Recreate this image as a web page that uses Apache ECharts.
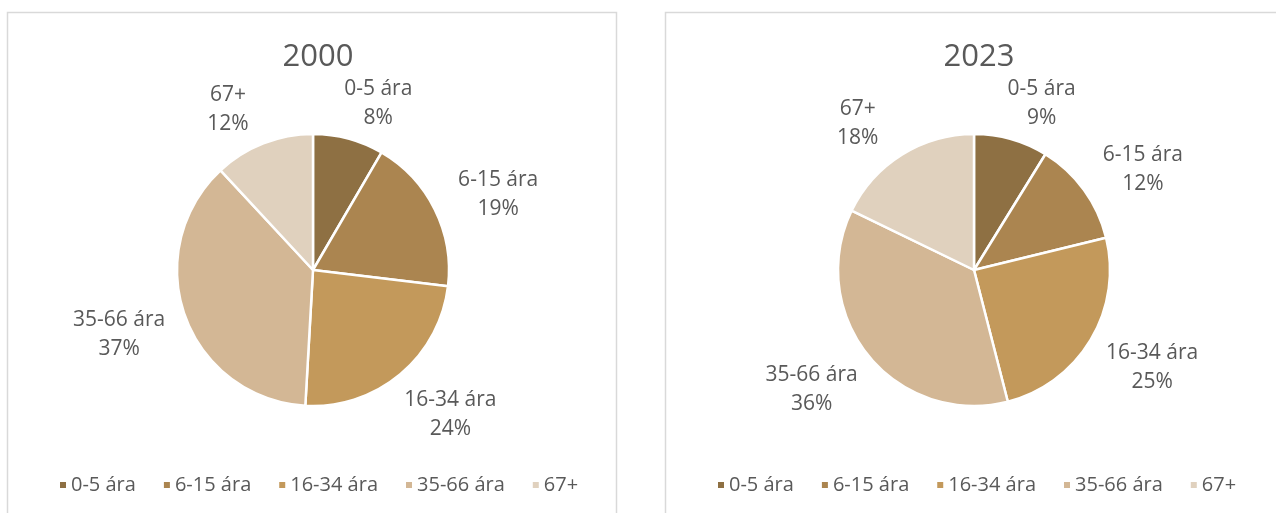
<!DOCTYPE html>
<html>
<head>
<meta charset="utf-8">
<script src="https://cdn.jsdelivr.net/npm/echarts@6/dist/echarts.min.js"></script>
<style>
  html, body { margin: 0; padding: 0; background: #fff; }
  #chart { width: 1276px; height: 513px; }
</style>
</head>
<body>
<div id="chart"></div>
<script>
// korcsoportok megoszlása, 2000 vs 2023
const groups = ['0-5 ára', '6-15 ára', '16-34 ára', '35-66 ára', '67+'];
const values2000 = [8.4, 18.5, 24.0, 37.2, 11.9];
const values2023 = [8.8, 12.4, 24.8, 36.2, 17.8];
const titles = ['2000', '2023'];
const colors = ['#8E7043', '#AB8550', '#C3995B', '#D3B795', '#E0D1BE'];

const FONT = '"Open Sans", "Noto Sans", sans-serif';
const TEXT = '#595959';

// a tényleges kördiagram
function pieSeries(vals, cx) {
  return {
    type: 'pie',
    center: [cx, 270],
    radius: 136,
    startAngle: 90,
    percentPrecision: 0,
    itemStyle: { borderColor: '#fff', borderWidth: 2.5 },
    label: { show: false },
    labelLine: { show: false },
    emphasis: { disabled: true },
    data: groups.map((name, i) => ({ name, value: vals[i], itemStyle: { color: colors[i] } }))
  };
}

// átlátszó gyűrű, csak a címkék miatt (középre igazítva, a szeleten kívül)
// Excelhez hasonlóan: oldalt kicsit kijjebb, felül kicsit beljebb
function labelSeries(vals, cx) {
  const total = vals.reduce((a, b) => a + b, 0);
  let acc = 0;
  const data = groups.map((name, i) => {
    const mid = (acc + vals[i] / 2) / total * Math.PI * 2;
    acc += vals[i];
    const dx = Math.sin(mid), dy = -Math.cos(mid);
    const oy = dy < 0 ? -14 * dy : -3 * dy;
    return { name, value: vals[i], label: { offset: [Math.sign(dx) * 16, oy] } };
  });
  return {
    type: 'pie',
    center: [cx, 272],
    radius: [170, 202],
    startAngle: 90,
    percentPrecision: 0,
    silent: true,
    itemStyle: { color: 'rgba(0,0,0,0)', borderWidth: 0 },
    label: {
      position: 'inside',
      formatter: '{b}\n{d}%',
      color: TEXT,
      fontFamily: FONT,
      fontSize: 21,
      lineHeight: 29
    },
    labelLine: { show: false },
    emphasis: { disabled: true },
    data
  };
}

function legend(left) {
  return {
    data: groups,
    left: left,
    top: 470,
    icon: 'rect',
    itemWidth: 8,
    itemHeight: 8,
    itemGap: 26,
    selectedMode: false,
    textStyle: { color: TEXT, fontFamily: FONT, fontSize: 20, padding: [0, 0, 0, -1] }
  };
}

const chart = echarts.init(document.getElementById('chart'));
chart.setOption({
  animation: false,
  color: colors,
  title: [
    { text: titles[0], left: 313, top: 37, textAlign: 'center',
      textStyle: { color: TEXT, fontFamily: FONT, fontSize: 31, fontWeight: 'normal' } },
    { text: titles[1], left: 974, top: 37, textAlign: 'center',
      textStyle: { color: TEXT, fontFamily: FONT, fontSize: 31, fontWeight: 'normal' } }
  ],
  legend: [legend(53), legend(711)],
  graphic: [
    { type: 'rect', shape: { x: 7.5, y: 12.5, width: 609, height: 520 },
      style: { fill: 'none', stroke: '#D9D9D9', lineWidth: 1.5 }, silent: true },
    { type: 'rect', shape: { x: 665.5, y: 12.5, width: 640, height: 520 },
      style: { fill: 'none', stroke: '#D9D9D9', lineWidth: 1.5 }, silent: true }
  ],
  series: [
    pieSeries(values2000, 313),
    labelSeries(values2000, 313),
    pieSeries(values2023, 974),
    labelSeries(values2023, 974)
  ]
});
window.addEventListener('resize', () => chart.resize());
</script>
</body>
</html>
